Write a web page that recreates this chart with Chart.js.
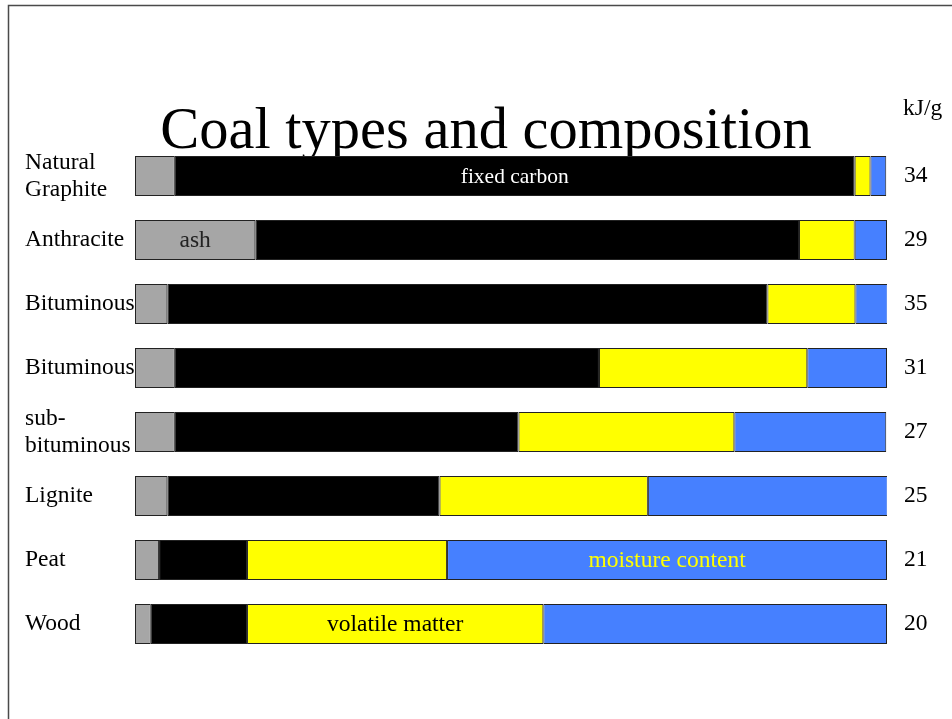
<!DOCTYPE html>
<html>
<head>
<meta charset="utf-8">
<script src="https://cdn.jsdelivr.net/npm/chart.js@4/dist/chart.umd.min.js"></script>
<style>
  html, body { margin: 0; padding: 0; background: #fff; }
  #wrap { position: absolute; left: 0; top: 0; width: 952px; height: 719px; }
</style>
</head>
<body>
<div id="wrap"><canvas id="coalChart" width="952" height="719"></canvas></div>
<script>
// data (percent of total bar length)
const coalTypes = [['Natural', 'Graphite'], 'Anthracite', 'Bituminous', 'Bituminous', ['sub-', 'bituminous'], 'Lignite', 'Peat', 'Wood'];
const ash = [5.3, 16.0, 4.3, 5.3, 5.3, 4.3, 3.2, 2.1];
const fixedCarbon = [90.4, 72.3, 79.8, 56.4, 45.7, 36.2, 11.7, 12.8];
const volatileMatter = [2.1, 7.4, 11.7, 27.7, 28.7, 27.7, 26.6, 39.4];
const moisture = [2.1, 4.3, 4.3, 10.6, 20.2, 31.9, 58.5, 45.7];
const energyKJg = ['34', '29', '35', '31', '27', '25', '21', '20'];

// text written inside some of the bars: [row, dataset, text, colour, size]
const insideLabels = [
  [0, 1, 'fixed carbon', '#ffffff', 21.5],
  [1, 0, 'ash', '#222222', 23.5],
  [6, 3, 'moisture content', '#ffff00', 23.5],
  [7, 2, 'volatile matter', '#000000', 23.5]
];

const serif = '"Liberation Serif", "Times New Roman", serif';

// frame + title behind the bars
const backdrop = {
  id: 'backdrop',
  beforeDatasetsDraw(chart) {
    const c = chart.ctx;
    c.save();
    c.strokeStyle = '#4a4a4a';
    c.lineWidth = 1.5;
    c.beginPath();
    c.moveTo(8.5, 719);
    c.lineTo(8.5, 5.5);
    c.lineTo(952, 5.5);
    c.stroke();

    c.fillStyle = '#000';
    c.font = '58.5px ' + serif;
    c.textAlign = 'center';
    c.textBaseline = 'alphabetic';
    c.fillText('Coal types and composition', 486, 148);
    c.restore();
  }
};

// category names, kJ/g values, text inside bars
const textLayer = {
  id: 'textLayer',
  afterDatasetsDraw(chart) {
    const c = chart.ctx;
    const y = chart.scales.y;
    c.save();
    c.font = '23.5px ' + serif;
    c.textBaseline = 'middle';
    c.fillStyle = '#000';

    coalTypes.forEach((name, i) => {
      const py = y.getPixelForValue(i);
      c.textAlign = 'left';
      if (Array.isArray(name)) {
        c.fillText(name[0], 25, py - 13);
        c.fillText(name[1], 25, py + 14);
      } else {
        c.fillText(name, 25, py);
      }
      c.fillText(energyKJg[i], 904, py);
    });
    c.fillText('kJ/g', 903, 109);

    c.textAlign = 'center';
    insideLabels.forEach(([row, ds, text, color, size]) => {
      const el = chart.getDatasetMeta(ds).data[row];
      c.font = size + 'px ' + serif;
      c.fillStyle = color;
      c.fillText(text, (el.x + el.base) / 2, el.y + 1);
    });
    c.restore();
  }
};

const segment = (label, data, color) => ({
  label,
  data,
  backgroundColor: color,
  borderColor: '#222',
  borderWidth: 1,
  borderSkipped: false,
  categoryPercentage: 1,
  barPercentage: 0.625
});

new Chart(document.getElementById('coalChart'), {
  type: 'bar',
  data: {
    labels: coalTypes,
    datasets: [
      segment('ash', ash, '#a6a6a6'),
      segment('fixed carbon', fixedCarbon, '#000000'),
      segment('volatile matter', volatileMatter, '#ffff00'),
      segment('moisture content', moisture, '#4680ff')
    ]
  },
  options: {
    indexAxis: 'y',
    responsive: false,
    animation: false,
    layout: { padding: { left: 135, right: 65, top: 144, bottom: 63 } },
    scales: {
      x: { stacked: true, min: 0, max: 100, display: false },
      y: { stacked: true, display: false }
    },
    plugins: {
      legend: { display: false },
      tooltip: { enabled: false }
    }
  },
  plugins: [backdrop, textLayer]
});
</script>
</body>
</html>
